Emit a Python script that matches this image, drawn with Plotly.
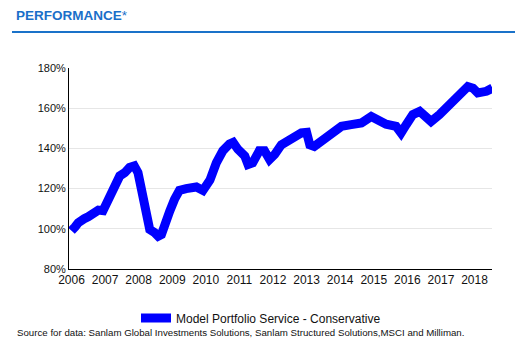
import plotly.graph_objects as go

dates = ["2006-01-01","2006-01-25","2006-02-10","2006-03-15","2006-04-20","2006-05-20","2006-07-01","2006-08-10","2006-10-20","2006-12-10",
         "2007-01-15","2007-02-20","2007-04-15","2007-05-10","2007-06-10","2007-08-05","2007-09-25","2007-11-15","2007-12-25",
         "2008-02-01","2008-03-01","2008-03-25","2008-05-01","2008-06-25","2008-08-01","2008-09-05","2008-10-10","2008-12-05",
         "2009-01-25","2009-03-20","2009-06-01","2009-08-01","2009-09-20","2009-12-01",
         "2010-02-15","2010-04-25","2010-07-05","2010-09-15","2010-10-25","2010-12-15",
         "2011-03-01","2011-04-05","2011-05-25","2011-08-05","2011-10-01","2011-11-25",
         "2012-01-20","2012-04-01","2012-07-20","2012-11-05",
         "2013-01-01","2013-02-05","2013-03-25","2013-06-10","2013-09-25",
         "2014-01-15","2014-05-01","2014-08-20","2014-12-05",
         "2015-02-15","2015-05-15","2015-09-01","2015-10-25","2015-12-20",
         "2016-03-01","2016-05-15","2016-07-25","2016-09-15","2016-12-15",
         "2017-04-05","2017-07-20","2017-10-20","2017-12-15",
         "2018-02-05","2018-05-10","2018-07-15"]
values = [99, 99.5, 101, 103, 103.5, 105, 106, 107.2, 109.3, 109,
          112, 117, 120.5, 122, 126.3, 128, 130.5, 131.3, 128,
          119.6, 111.3, 104.6, 99.6, 98, 96.3, 97.1, 103, 108.8,
          114.6, 119.1, 120, 121, 120.8, 119.1,
          124.3, 132.8, 138.8, 142.2, 143, 139.6,
          136.2, 132, 132.8, 138.8, 138.8, 134.5,
          137, 141.8, 145.2, 147.7,
          148, 141.8, 141, 143.5, 146.8,
          151, 151.8, 152.6, 155.9,
          154.3, 152, 151, 147.7, 151.8,
          156.8, 158.4, 155.1, 153.4, 156.8,
          161.7, 165.9, 170.8, 170,
          167.6, 168.4, 170]
series_name = "Model Portfolio Service - Conservative"
y_ticks = [80, 100, 120, 140, 160, 180]
y_labels = [f"{v}%" for v in y_ticks]
x_ticks = [f"{y}-01-01" for y in range(2006, 2019)]
x_labels = [str(y) for y in range(2006, 2019)]

FONT = "Arial, Liberation Sans, sans-serif"
W, H = 515, 350
L, R, T, B = 69, 492, 68, 269
pw, ph = R - L, B - T

def px(x):
    return (x - L) / pw

def py(y):
    return (B - y) / ph

fig = go.Figure()
fig.add_trace(go.Scatter(
    x=dates, y=values, mode="lines", name=series_name,
    line=dict(color="#0000ff", width=9),
))

fig.update_layout(
    width=W, height=H,
    margin=dict(l=L, r=W - R, t=T, b=H - B),
    paper_bgcolor="white", plot_bgcolor="white",
    font=dict(family=FONT, color="#111111"),
    title=dict(text="<b>PERFORMANCE</b>*", x=16 / W, xanchor="left",
               y=1 - 15 / H, yanchor="middle",
               font=dict(family=FONT, size=13.5, color="#1a6fc9")),
    showlegend=True,
    legend=dict(orientation="h", x=px(136), xanchor="left", y=py(318), yanchor="middle",
                font=dict(family=FONT, size=12, color="#111111"), bgcolor="rgba(0,0,0,0)"),
    xaxis=dict(type="date", range=["2005-12-05", "2018-07-10"],
               tickvals=x_ticks, ticktext=x_labels, showgrid=False,
               showline=True, linecolor="black", linewidth=1, ticks="",
               tickfont=dict(family=FONT, size=12, color="#111111"), zeroline=False),
    yaxis=dict(range=[80, 180], tickvals=y_ticks, ticktext=y_labels,
               showgrid=True, gridcolor="#e6e6e6", gridwidth=1,
               showline=True, linecolor="black", linewidth=1, ticks="",
               tickfont=dict(family=FONT, size=11, color="#111111"), zeroline=False),
    shapes=[dict(type="line", xref="paper", yref="paper", x0=px(12), x1=px(515),
                 y0=py(32), y1=py(32), line=dict(color="#1a72c9", width=2))],
    annotations=[dict(text="Source for data: Sanlam Global Investments Solutions, Sanlam Structured Solutions,MSCI and Milliman.",
                      xref="paper", yref="paper", x=px(15), y=py(332), xanchor="left", yanchor="middle",
                      showarrow=False, font=dict(family=FONT, size=9.7, color="#111111"))],
)

fig.write_html("out.html")
